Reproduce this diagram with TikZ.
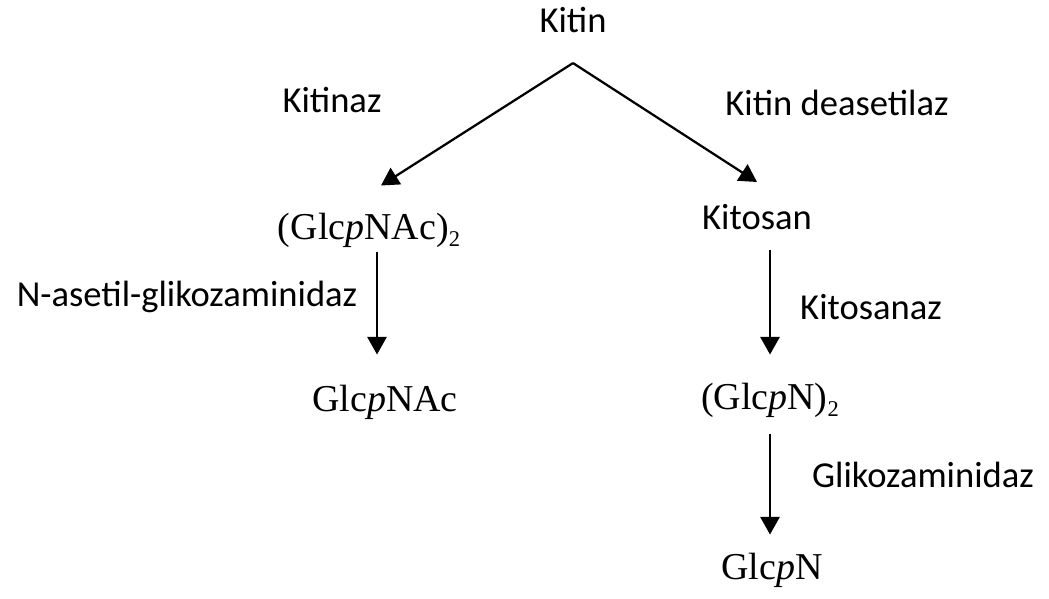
\documentclass[tikz,border=0pt]{standalone}
\usepackage{fontspec}
\setmainfont{Liberation Serif}
\setsansfont{Carlito}
\usetikzlibrary{arrows.meta}
\newcommand{\twosub}{\raisebox{-0.4ex}{\fontsize{16}{16}\selectfont 2}}

\begin{document}
\begin{tikzpicture}[x=0.025cm, y=-0.025cm,
  chem/.style={font=\fontsize{27}{32}\selectfont, inner sep=0pt},
  enz/.style={font=\sffamily\fontsize{26}{31}\selectfont, inner sep=0pt},
  arr/.style={-{Triangle[length=4.4mm, width=4.8mm]}, line width=1.6pt}]
\useasboundingbox (0,0) rectangle (1049,598);
% --- substrate ---
\node[enz] (kitin) at (573,20) {Kitin};
% --- left branch: chitinase ---
\node[chem] (dimer) at (369,230) {(Glc\textit{p}NAc)\twosub};
\node[chem] (mono) at (385,402) {Glc\textit{p}NAc};
\node[enz] (kitinaz) at (332,100) {Kitinaz};
\node[enz] (nag) at (187,297) {N-asetil-glikozaminidaz};
% --- right branch: deacetylase ---
\node[enz] (kitosan) at (757,217) {Kitosan};
\node[chem] (dimern) at (770,400) {(Glc\textit{p}N)\twosub};
\node[chem] (monon) at (772,570) {Glc\textit{p}N};
\node[enz] (deas) at (837,103) {Kitin deasetilaz};
\node[enz] (kitosanaz) at (871,307) {Kitosanaz};
\node[enz] (gln) at (923,475) {Glikozaminidaz};
% --- connectors ---
\draw[arr] ([yshift=-7.5mm]kitin.south) -- ([xshift=3mm, yshift=6.75mm]dimer.north);
\draw[arr] ([yshift=-7.5mm]kitin.south) -- ([yshift=5.5mm]kitosan.north);
\draw[arr, shorten <=1mm, shorten >=7.5mm] ([xshift=2mm]dimer.south) -- ([xshift=2mm]dimer.south |- mono.north);
\draw[arr, shorten <=5mm, shorten >=7mm] (dimern.north |- kitosan.south) -- (dimern.north);
\draw[arr, shorten <=4mm, shorten >=4.5mm] (dimern.south) -- (dimern.south |- monon.north);
\end{tikzpicture}
\end{document}
